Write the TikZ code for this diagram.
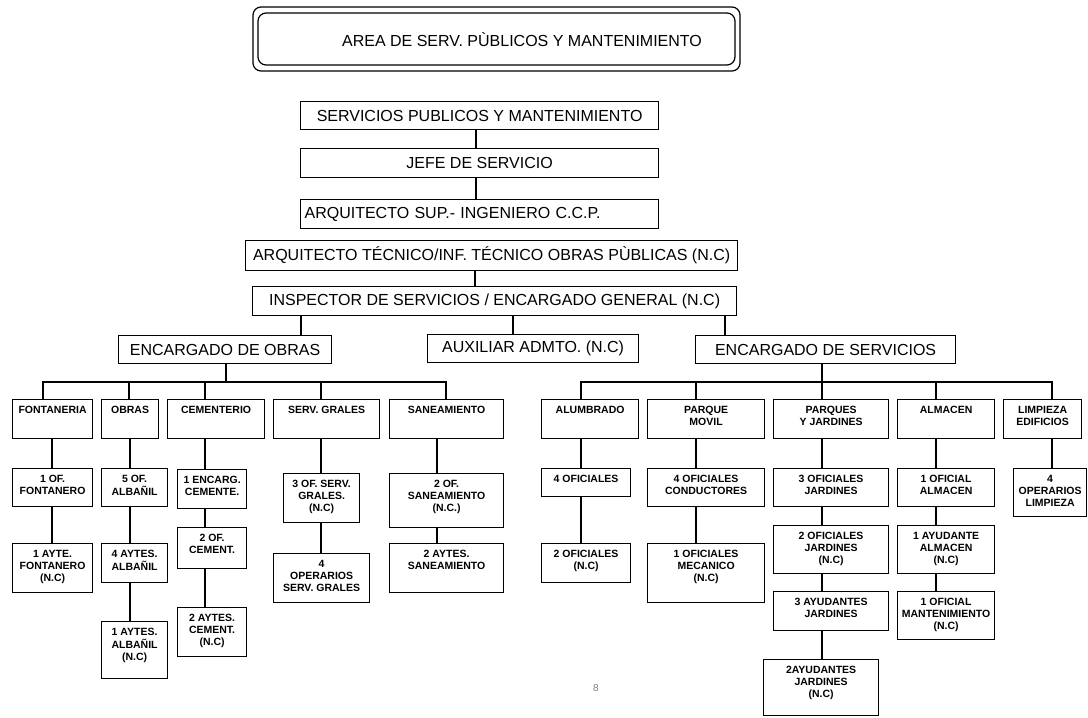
\documentclass[tikz,border=0pt]{standalone}
\usepackage{fontspec}
\setmainfont{Liberation Sans}

\begin{document}
\begin{tikzpicture}[x=1pt,y=-1pt,
  wire/.style={line width=1.2pt},
  bigbox/.style={draw, line width=1.2pt, anchor=north west, inner sep=0pt, font=\fontsize{16}{19}\selectfont},
  cell/.style 2 args={draw, line width=1.2pt, anchor=north west, inner xsep=2pt, inner ysep=5pt,
    font=\fontsize{10.5}{12}\selectfont\bfseries,
    execute at begin node={\begin{minipage}[t][\dimexpr#2pt-10pt\relax][t]{\dimexpr#1pt-4pt\relax}\centering\strut},
    execute at end node={\end{minipage}}}]
  % Page size and white background
  \fill[white] (0,0) rectangle (1088,718);
  \useasboundingbox (0,0) rectangle (1088,718);

  % Title with double rounded frame
  \draw[line width=1.2pt, rounded corners=8pt] (253,7) rectangle (740,71);
  \draw[line width=1.2pt, rounded corners=8pt] (258,13) rectangle (735,65);
  \node[font=\fontsize{16}{19}\selectfont] (area) at (522,40) {AREA DE SERV. PÙBLICOS Y MANTENIMIENTO};

  % Upper chain of command
  \node[bigbox, minimum width=358pt, minimum height=28pt] (serv) at (300,101) {SERVICIOS PUBLICOS Y MANTENIMIENTO};
  \node[bigbox, minimum width=358pt, minimum height=29pt] (jefe) at (300,148) {JEFE DE SERVICIO};
  \node[bigbox, minimum height=29pt, text width=350pt, align=left, inner xsep=4pt] (arqs) at (300,199) {ARQUITECTO SUP.- INGENIERO C.C.P.};
  \node[bigbox, minimum width=492pt, minimum height=30pt] (arqt) at (245,240) {ARQUITECTO TÉCNICO/INF. TÉCNICO OBRAS PÙBLICAS (N.C)};
  \node[bigbox, minimum width=484pt, minimum height=29pt] (insp) at (252,286) {INSPECTOR DE SERVICIOS / ENCARGADO GENERAL (N.C)};

  % Second level
  \node[bigbox, minimum width=213pt, minimum height=28pt] (eobr) at (118,335) {ENCARGADO DE OBRAS};
  \node[bigbox, minimum width=211pt, minimum height=28pt] (aux) at (427,334) {AUXILIAR ADMTO. (N.C)};
  \node[bigbox, minimum width=260pt, minimum height=28pt] (eser) at (695,335) {ENCARGADO DE SERVICIOS};

  % Obras: sections
  \node[cell={80}{39}] (fon) at (12,399) {FONTANERIA};
  \node[cell={57}{39}] (obr) at (101,399) {OBRAS};
  \node[cell={97}{39}] (cem) at (167,399) {CEMENTERIO};
  \node[cell={106}{39}] (sg) at (273,399) {SERV. GRALES};
  \node[cell={114}{39}] (san) at (389,399) {SANEAMIENTO};

  % Obras: staff
  \node[cell={80}{38}] (fof) at (12,468) {1 OF.\\FONTANERO};
  \node[cell={80}{49}] (fay) at (12,543) {1 AYTE.\\FONTANERO\\(N.C)};
  \node[cell={66}{38}] (oof) at (101,468) {5 OF.\\ALBAÑIL};
  \node[cell={66}{39}] (oay) at (101,543) {4 AYTES.\\ALBAÑIL};
  \node[cell={66}{57}] (oayn) at (101,621) {1 AYTES.\\ALBAÑIL\\(N.C)};
  \node[cell={69}{39}] (cenc) at (177,469) {1 ENCARG.\\CEMENTE.};
  \node[cell={69}{41}] (cof) at (177,527) {2 OF.\\CEMENT.};
  \node[cell={69}{49}] (cay) at (177,607) {2 AYTES.\\CEMENT.\\(N.C)};
  \node[cell={76}{49}] (sgof) at (283,473) {3 OF. SERV.\\GRALES.\\(N.C)};
  \node[cell={96}{49}] (sgop) at (273,553) {4\\OPERARIOS\\SERV. GRALES};
  \node[cell={114}{54}] (sanof) at (389,473) {2 OF.\\SANEAMIENTO\\(N.C.)};
  \node[cell={114}{49}] (sanay) at (389,543) {2 AYTES.\\SANEAMIENTO};

  % Servicios: sections
  \node[cell={97}{39}] (alu) at (541,399) {ALUMBRADO};
  \node[cell={117}{39}] (pm) at (647,399) {PARQUE\\MOVIL};
  \node[cell={115}{39}] (pj) at (773,399) {PARQUES\\Y JARDINES};
  \node[cell={97}{39}] (alm) at (897,399) {ALMACEN};
  \node[cell={78}{39}] (lim) at (1003,399) {LIMPIEZA\\EDIFICIOS};

  % Servicios: staff
  \node[cell={89}{28}] (aof) at (541,468) {4 OFICIALES};
  \node[cell={89}{39}] (aofn) at (541,543) {2 OFICIALES\\(N.C)};
  \node[cell={117}{38}] (pmof) at (647,468) {4 OFICIALES\\CONDUCTORES};
  \node[cell={117}{59}] (pmme) at (647,543) {1 OFICIALES\\MECANICO\\(N.C)};
  \node[cell={115}{38}] (pjof) at (773,468) {3 OFICIALES\\JARDINES};
  \node[cell={115}{48}] (pjofn) at (773,525) {2 OFICIALES\\JARDINES\\(N.C)};
  \node[cell={115}{39}] (pjay) at (773,591) {3 AYUDANTES\\JARDINES};
  \node[cell={115}{56}] (pjayn) at (763,659) {2AYUDANTES\\JARDINES\\(N.C)};
  \node[cell={97}{38}] (almof) at (897,468) {1 OFICIAL\\ALMACEN};
  \node[cell={97}{48}] (almay) at (897,525) {1 AYUDANTE\\ALMACEN\\(N.C)};
  \node[cell={97}{48}] (almma) at (897,591) {1 OFICIAL\\MANTENIMIENTO\\(N.C)};
  \node[cell={73}{48}] (limop) at (1013,468) {4\\OPERARIOS\\LIMPIEZA};

  % Page number
  \node[text=gray, font=\fontsize{10}{12}\selectfont] (pag) at (596,688) {8};

  % Connectors of the upper chain
  \draw[wire] (serv.south -| 476,0) -- (jefe.north -| 476,0);
  \draw[wire] (jefe.south -| 476,0) -- (arqs.north -| 476,0);
  \draw[wire] (arqt.south -| 475,0) -- (insp.north -| 475,0);
  \draw[wire] (insp.south -| 301,0) -- (eobr.north -| 301,0);
  \draw[wire] (insp.south -| 513,0) -- (aux.north -| 513,0);
  \draw[wire] (insp.south -| 725,0) -- (eser.north -| 725,0);

  % Bus of Encargado de obras
  \coordinate (bus) at (0,382);
  \draw[wire] (eobr.south -| 226,0) -- (bus -| 226,0);
  \draw[wire] (fon.north -| 43,0) -- (bus -| 43,0) -- (bus -| 446,0) -- (san.north -| 446,0);
  \draw[wire] (obr.north -| 129,0) -- (bus -| 129,0);
  \draw[wire] (cem.north -| 205,0) -- (bus -| 205,0);
  \draw[wire] (sg.north -| 321,0) -- (bus -| 321,0);

  % Columns under obras
  \draw[wire] (fon.south -| 52,0) -- (fof.north -| 52,0) (fof.south -| 52,0) -- (fay.north -| 52,0);
  \draw[wire] (obr.south -| 130,0) -- (oof.north -| 130,0) (oof.south -| 130,0) -- (oay.north -| 130,0)
    (oay.south -| 130,0) -- (oayn.north -| 130,0);
  \draw[wire] (cem.south -| 205,0) -- (cenc.north -| 205,0) (cenc.south -| 205,0) -- (cof.north -| 205,0)
    (cof.south -| 205,0) -- (cay.north -| 205,0);
  \draw[wire] (sg.south -| 321,0) -- (sgof.north -| 321,0) (sgof.south -| 321,0) -- (sgop.north -| 321,0);
  \draw[wire] (san.south -| 437,0) -- (sanof.north -| 437,0) (sanof.south -| 437,0) -- (sanay.north -| 437,0);

  % Bus of Encargado de servicios
  \draw[wire] (eser.south -| 822,0) -- (bus -| 822,0);
  \draw[wire] (alu.north -| 581,0) -- (bus -| 581,0) -- (bus -| 1052,0) -- (lim.north -| 1052,0);
  \draw[wire] (pm.north -| 696,0) -- (bus -| 696,0);
  \draw[wire] (pj.north -| 822,0) -- (bus -| 822,0);
  \draw[wire] (alm.north -| 936,0) -- (bus -| 936,0);

  % Columns under servicios
  \draw[wire] (alu.south -| 581,0) -- (aof.north -| 581,0) (aof.south -| 581,0) -- (aofn.north -| 581,0);
  \draw[wire] (pm.south -| 696,0) -- (pmof.north -| 696,0) (pmof.south -| 696,0) -- (pmme.north -| 696,0);
  \draw[wire] (pj.south -| 822,0) -- (pjof.north -| 822,0) (pjof.south -| 822,0) -- (pjofn.north -| 822,0)
    (pjofn.south -| 822,0) -- (pjay.north -| 822,0) (pjay.south -| 822,0) -- (pjayn.north -| 822,0);
  \draw[wire] (alm.south -| 936,0) -- (almof.north -| 936,0) (almof.south -| 936,0) -- (almay.north -| 936,0)
    (almay.south -| 936,0) -- (almma.north -| 936,0);
  \draw[wire] (lim.south -| 1052,0) -- (limop.north -| 1052,0);
\end{tikzpicture}
\end{document}
